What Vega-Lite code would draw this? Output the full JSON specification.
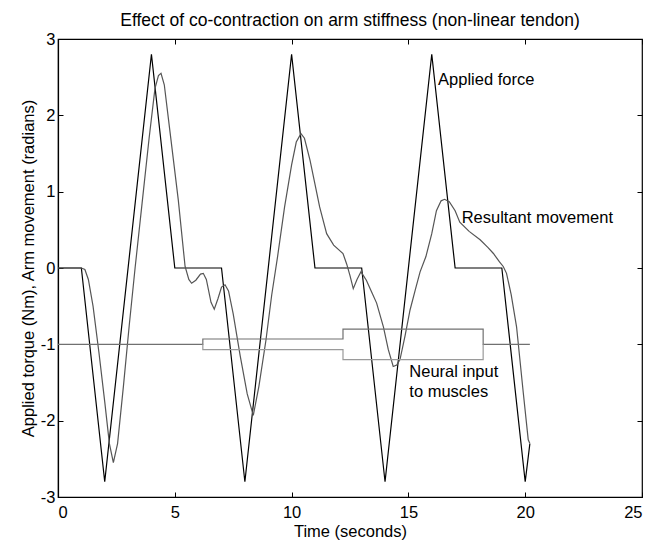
{
  "$schema": "https://vega.github.io/schema/vega-lite/v6.json",
  "width": 584,
  "height": 458,
  "autosize": {"type": "none"},
  "padding": {"left": 58, "top": 39, "right": 11, "bottom": 48},
  "background": "white",
  "title": {"text": "Effect of co-contraction on arm stiffness (non-linear tendon)", "font": "Liberation Sans", "fontSize": 17.5, "fontWeight": "normal", "color": "black", "offset": 2},
  "config": {
    "view": {"stroke": "black", "strokeWidth": 1.2},
    "axis": {"domainColor": "black", "tickColor": "black", "labelColor": "black", "titleColor": "black", "labelFont": "Liberation Sans", "titleFont": "Liberation Sans", "labelFontSize": 16.5, "titleFontSize": 16.5, "titleFontWeight": "normal", "grid": false, "tickSize": -5, "domainWidth": 1.2, "tickWidth": 1, "labelExpr": "toString(datum.value)"}
  },
  "datasets": {
    "lines": [
      {"s": "F", "i": 0, "t": 0, "v": 0}, {"s": "F", "i": 1, "t": 1, "v": 0}, {"s": "F", "i": 2, "t": 2, "v": -2.8}, {"s": "F", "i": 3, "t": 4, "v": 2.8}, {"s": "F", "i": 4, "t": 5, "v": 0}, {"s": "F", "i": 5, "t": 7, "v": 0}, {"s": "F", "i": 6, "t": 8, "v": -2.8}, {"s": "F", "i": 7, "t": 10, "v": 2.8}, {"s": "F", "i": 8, "t": 11, "v": 0}, {"s": "F", "i": 9, "t": 13, "v": 0}, {"s": "F", "i": 10, "t": 14, "v": -2.8}, {"s": "F", "i": 11, "t": 16, "v": 2.8}, {"s": "F", "i": 12, "t": 17, "v": 0}, {"s": "F", "i": 13, "t": 19, "v": 0}, {"s": "F", "i": 14, "t": 20, "v": -2.8}, {"s": "F", "i": 15, "t": 20.2, "v": -2.3},
      {"s": "M", "i": 0, "t": 0, "v": 0}, {"s": "M", "i": 1, "t": 1.0, "v": 0}, {"s": "M", "i": 2, "t": 1.15, "v": -0.02}, {"s": "M", "i": 3, "t": 1.3, "v": -0.15}, {"s": "M", "i": 4, "t": 1.5, "v": -0.5}, {"s": "M", "i": 5, "t": 1.75, "v": -1.1}, {"s": "M", "i": 6, "t": 2.0, "v": -1.75}, {"s": "M", "i": 7, "t": 2.2, "v": -2.3}, {"s": "M", "i": 8, "t": 2.37, "v": -2.55}, {"s": "M", "i": 9, "t": 2.55, "v": -2.3}, {"s": "M", "i": 10, "t": 2.8, "v": -1.55}, {"s": "M", "i": 11, "t": 3.05, "v": -0.75}, {"s": "M", "i": 12, "t": 3.3, "v": 0}, {"s": "M", "i": 13, "t": 3.6, "v": 0.85}, {"s": "M", "i": 14, "t": 3.9, "v": 1.7}, {"s": "M", "i": 15, "t": 4.15, "v": 2.35}, {"s": "M", "i": 16, "t": 4.3, "v": 2.52}, {"s": "M", "i": 17, "t": 4.41, "v": 2.55}, {"s": "M", "i": 18, "t": 4.55, "v": 2.4}, {"s": "M", "i": 19, "t": 4.8, "v": 1.77}, {"s": "M", "i": 20, "t": 5.15, "v": 0.89}, {"s": "M", "i": 21, "t": 5.44, "v": 0.02}, {"s": "M", "i": 22, "t": 5.6, "v": -0.15}, {"s": "M", "i": 23, "t": 5.72, "v": -0.2}, {"s": "M", "i": 24, "t": 5.9, "v": -0.16}, {"s": "M", "i": 25, "t": 6.1, "v": -0.08}, {"s": "M", "i": 26, "t": 6.22, "v": -0.07}, {"s": "M", "i": 27, "t": 6.35, "v": -0.15}, {"s": "M", "i": 28, "t": 6.55, "v": -0.45}, {"s": "M", "i": 29, "t": 6.69, "v": -0.54}, {"s": "M", "i": 30, "t": 6.85, "v": -0.4}, {"s": "M", "i": 31, "t": 7.0, "v": -0.25}, {"s": "M", "i": 32, "t": 7.15, "v": -0.22}, {"s": "M", "i": 33, "t": 7.3, "v": -0.3}, {"s": "M", "i": 34, "t": 7.5, "v": -0.6}, {"s": "M", "i": 35, "t": 7.8, "v": -1.15}, {"s": "M", "i": 36, "t": 8.1, "v": -1.65}, {"s": "M", "i": 37, "t": 8.36, "v": -1.93}, {"s": "M", "i": 38, "t": 8.6, "v": -1.55}, {"s": "M", "i": 39, "t": 8.9, "v": -0.95}, {"s": "M", "i": 40, "t": 9.15, "v": -0.35}, {"s": "M", "i": 41, "t": 9.4, "v": 0.15}, {"s": "M", "i": 42, "t": 9.7, "v": 0.8}, {"s": "M", "i": 43, "t": 10.0, "v": 1.35}, {"s": "M", "i": 44, "t": 10.2, "v": 1.65}, {"s": "M", "i": 45, "t": 10.4, "v": 1.76}, {"s": "M", "i": 46, "t": 10.55, "v": 1.7}, {"s": "M", "i": 47, "t": 10.79, "v": 1.41}, {"s": "M", "i": 48, "t": 11.0, "v": 1.1}, {"s": "M", "i": 49, "t": 11.2, "v": 0.8}, {"s": "M", "i": 50, "t": 11.5, "v": 0.45}, {"s": "M", "i": 51, "t": 11.8, "v": 0.3}, {"s": "M", "i": 52, "t": 12.2, "v": 0.19}, {"s": "M", "i": 53, "t": 12.36, "v": 0.05}, {"s": "M", "i": 54, "t": 12.5, "v": -0.1}, {"s": "M", "i": 55, "t": 12.64, "v": -0.27}, {"s": "M", "i": 56, "t": 12.8, "v": -0.15}, {"s": "M", "i": 57, "t": 12.97, "v": -0.05}, {"s": "M", "i": 58, "t": 13.2, "v": -0.16}, {"s": "M", "i": 59, "t": 13.45, "v": -0.33}, {"s": "M", "i": 60, "t": 13.64, "v": -0.46}, {"s": "M", "i": 61, "t": 13.93, "v": -0.77}, {"s": "M", "i": 62, "t": 14.14, "v": -1.07}, {"s": "M", "i": 63, "t": 14.35, "v": -1.29}, {"s": "M", "i": 64, "t": 14.5, "v": -1.27}, {"s": "M", "i": 65, "t": 14.64, "v": -1.2}, {"s": "M", "i": 66, "t": 14.85, "v": -0.9}, {"s": "M", "i": 67, "t": 15.07, "v": -0.55}, {"s": "M", "i": 68, "t": 15.3, "v": -0.28}, {"s": "M", "i": 69, "t": 15.5, "v": -0.05}, {"s": "M", "i": 70, "t": 15.75, "v": 0.15}, {"s": "M", "i": 71, "t": 16.0, "v": 0.45}, {"s": "M", "i": 72, "t": 16.2, "v": 0.75}, {"s": "M", "i": 73, "t": 16.4, "v": 0.88}, {"s": "M", "i": 74, "t": 16.55, "v": 0.9}, {"s": "M", "i": 75, "t": 16.75, "v": 0.87}, {"s": "M", "i": 76, "t": 17.0, "v": 0.75}, {"s": "M", "i": 77, "t": 17.2, "v": 0.6}, {"s": "M", "i": 78, "t": 17.6, "v": 0.48}, {"s": "M", "i": 79, "t": 18.07, "v": 0.37}, {"s": "M", "i": 80, "t": 18.4, "v": 0.27}, {"s": "M", "i": 81, "t": 18.64, "v": 0.19}, {"s": "M", "i": 82, "t": 18.9, "v": 0.08}, {"s": "M", "i": 83, "t": 19.06, "v": 0.02}, {"s": "M", "i": 84, "t": 19.2, "v": -0.07}, {"s": "M", "i": 85, "t": 19.4, "v": -0.35}, {"s": "M", "i": 86, "t": 19.63, "v": -0.77}, {"s": "M", "i": 87, "t": 19.92, "v": -1.64}, {"s": "M", "i": 88, "t": 20.13, "v": -2.25}, {"s": "M", "i": 89, "t": 20.2, "v": -2.3},
      {"s": "N1", "i": 0, "t": 0, "v": -1}, {"s": "N1", "i": 1, "t": 6.2, "v": -1}, {"s": "N1", "i": 2, "t": 6.2, "v": -0.93}, {"s": "N1", "i": 3, "t": 12.2, "v": -0.93}, {"s": "N1", "i": 4, "t": 12.2, "v": -0.8}, {"s": "N1", "i": 5, "t": 18.2, "v": -0.8}, {"s": "N1", "i": 6, "t": 18.2, "v": -1}, {"s": "N1", "i": 7, "t": 20.2, "v": -1},
      {"s": "N2", "i": 0, "t": 6.2, "v": -1}, {"s": "N2", "i": 1, "t": 6.2, "v": -1.07}, {"s": "N2", "i": 2, "t": 12.2, "v": -1.07}, {"s": "N2", "i": 3, "t": 12.2, "v": -1.2}, {"s": "N2", "i": 4, "t": 18.2, "v": -1.2}, {"s": "N2", "i": 5, "t": 18.2, "v": -1}
    ],
    "notes": [
      {"t": 16.27, "v": 2.46, "label": "Applied force"},
      {"t": 17.28, "v": 0.66, "label": "Resultant movement"},
      {"t": 15.04, "v": -1.36, "label": "Neural input"},
      {"t": 15.04, "v": -1.62, "label": "to muscles"}
    ]
  },
  "layer": [
    {
      "data": {"name": "lines"},
      "mark": {"type": "line", "strokeWidth": 1.2},
      "encoding": {
        "x": {"field": "t", "type": "quantitative", "scale": {"domain": [0, 25], "nice": false}, "axis": {"orient": "bottom", "values": [0, 5, 10, 15, 20, 25], "title": "Time (seconds)", "labelPadding": 12, "titlePadding": 3, "titleFontSize": 16.5}},
        "y": {"field": "v", "type": "quantitative", "scale": {"domain": [-3, 3], "nice": false}, "axis": {"orient": "left", "values": [-3, -2, -1, 0, 1, 2, 3], "title": "Applied torque (Nm), Arm movement (radians)", "labelPadding": 8, "titlePadding": 4}},
        "color": {"field": "s", "type": "nominal", "scale": {"domain": ["F", "M", "N1", "N2"], "range": ["#000000", "#555555", "#707070", "#9a9a9a"]}, "legend": null},
        "order": {"field": "i", "type": "quantitative"}
      }
    },
    {
      "data": {"name": "notes"},
      "mark": {"type": "text", "align": "left", "baseline": "middle", "font": "Liberation Sans", "fontSize": 16.5, "color": "black"},
      "encoding": {
        "x": {"field": "t", "type": "quantitative", "axis": {"orient": "top", "values": [0, 5, 10, 15, 20, 25], "labels": false, "title": null, "domain": false}},
        "y": {"field": "v", "type": "quantitative", "axis": {"orient": "right", "values": [-3, -2, -1, 0, 1, 2, 3], "labels": false, "title": null, "domain": false}},
        "text": {"field": "label"}
      }
    }
  ],
  "resolve": {"axis": {"x": "independent", "y": "independent"}}
}
